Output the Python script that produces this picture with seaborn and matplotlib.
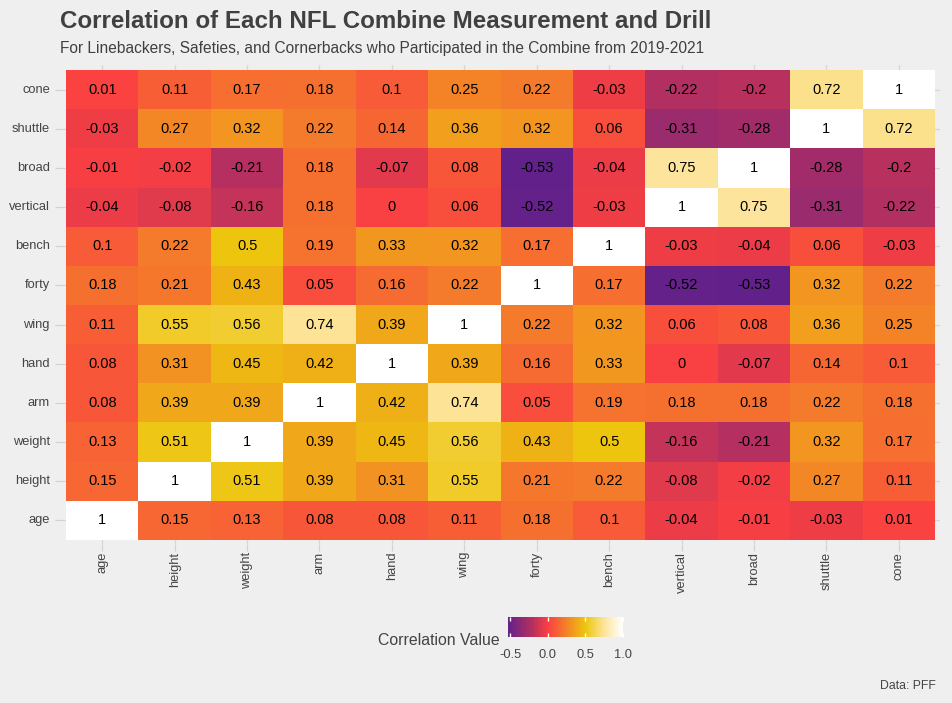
import numpy as np
import pandas as pd
import matplotlib
matplotlib.use("Agg")
import matplotlib.pyplot as plt
import seaborn as sns
from matplotlib.colors import LinearSegmentedColormap

variables = ["age", "height", "weight", "arm", "hand", "wing", "forty",
             "bench", "vertical", "broad", "shuttle", "cone"]

r_age      = [1, 0.15, 0.13, 0.08, 0.08, 0.11, 0.18, 0.1, -0.04, -0.01, -0.03, 0.01]
r_height   = [0.15, 1, 0.51, 0.39, 0.31, 0.55, 0.21, 0.22, -0.08, -0.02, 0.27, 0.11]
r_weight   = [0.13, 0.51, 1, 0.39, 0.45, 0.56, 0.43, 0.5, -0.16, -0.21, 0.32, 0.17]
r_arm      = [0.08, 0.39, 0.39, 1, 0.42, 0.74, 0.05, 0.19, 0.18, 0.18, 0.22, 0.18]
r_hand     = [0.08, 0.31, 0.45, 0.42, 1, 0.39, 0.16, 0.33, 0, -0.07, 0.14, 0.1]
r_wing     = [0.11, 0.55, 0.56, 0.74, 0.39, 1, 0.22, 0.32, 0.06, 0.08, 0.36, 0.25]
r_forty    = [0.18, 0.21, 0.43, 0.05, 0.16, 0.22, 1, 0.17, -0.52, -0.53, 0.32, 0.22]
r_bench    = [0.1, 0.22, 0.5, 0.19, 0.33, 0.32, 0.17, 1, -0.03, -0.04, 0.06, -0.03]
r_vertical = [-0.04, -0.08, -0.16, 0.18, 0, 0.06, -0.52, -0.03, 1, 0.75, -0.31, -0.22]
r_broad    = [-0.01, -0.02, -0.21, 0.18, -0.07, 0.08, -0.53, -0.04, 0.75, 1, -0.28, -0.2]
r_shuttle  = [-0.03, 0.27, 0.32, 0.22, 0.14, 0.36, 0.32, 0.06, -0.31, -0.28, 1, 0.72]
r_cone     = [0.01, 0.11, 0.17, 0.18, 0.1, 0.25, 0.22, -0.03, -0.22, -0.2, 0.72, 1]

rows = [r_age, r_height, r_weight, r_arm, r_hand, r_wing, r_forty, r_bench,
        r_vertical, r_broad, r_shuttle, r_cone]

cbar_ticks = [-0.5, 0.0, 0.5, 1.0]
cbar_labels = ["-0.5", "0.0", "0.5", "1.0"]

df = pd.DataFrame(rows, index=variables, columns=variables)
df_plot = df.iloc[::-1]
annot = df_plot.map(lambda v: f"{v:g}")

vmin, vmax = -0.53, 1.0
def pos(v):
    return (v - vmin) / (vmax - vmin)
cmap = LinearSegmentedColormap.from_list(
    "corr",
    [(0.0, "#62218A"), (pos(-0.2), "#B8305E"), (pos(0.0), "#FA4042"),
     (pos(0.5), "#EDC50E"), (pos(0.75), "#FDE49A"), (1.0, "#FFFFFF")])

BG = "#EFEFEF"
plt.rcParams["font.family"] = ["Liberation Sans", "DejaVu Sans"]

fig = plt.figure(figsize=(9.52, 7.03), dpi=100, facecolor=BG)
ax = fig.add_axes([61 / 952, 1 - 545 / 703, 879 / 952, 480 / 703])
cax = fig.add_axes([0.5336, 0.0939, 0.1208, 0.0285])
ax.set_facecolor(BG)

sns.heatmap(df_plot, ax=ax, cmap=cmap, vmin=vmin, vmax=vmax,
            annot=annot, fmt="", annot_kws={"size": 10.5, "color": "black"},
            cbar_ax=cax, cbar_kws={"orientation": "horizontal", "ticks": cbar_ticks},
            linewidths=0)

n = len(variables)
ax.set_xlim(-0.07, n + 0.07)
ax.set_ylim(n + 0.13, -0.13)
ax.set_axisbelow(True)
ax.grid(True, color="#D6D6D6", linewidth=0.9)

ax.set_xlabel("")
ax.set_ylabel("")
ax.set_xticklabels(df_plot.columns, rotation=90, fontsize=9.3, color="#444444")
ax.set_yticklabels(df_plot.index, rotation=0, fontsize=9.3, color="#444444")
ax.tick_params(axis="both", length=4, color="#D0D0D0", width=0.8)
ax.tick_params(axis="y", pad=4)
ax.tick_params(axis="x", pad=1)
for s in ax.spines.values():
    s.set_visible(False)

cax.tick_params(axis="x", length=3, color="white", width=1, direction="in",
                top=True, bottom=True, labelsize=9.3, labelcolor="#444444", pad=9)
cax.set_xticklabels(cbar_labels)
for s in cax.spines.values():
    s.set_visible(False)
fig.text(0.525, 0.089, "Correlation Value", ha="right", va="center",
         fontsize=11.4, color="#444444")

fig.text(0.063, 0.970, "Correlation of Each NFL Combine Measurement and Drill",
         fontsize=17.4, fontweight="bold", color="#404040", ha="left", va="center")
fig.text(0.063, 0.931, "For Linebackers, Safeties, and Cornerbacks who Participated in the Combine from 2019-2021",
         fontsize=11.2, color="#404040", ha="left", va="center")
fig.text(0.983, 0.024, "Data: PFF", fontsize=8.8, color="#444444", ha="right", va="center")

fig.savefig("out.png", dpi=100, facecolor=BG)
